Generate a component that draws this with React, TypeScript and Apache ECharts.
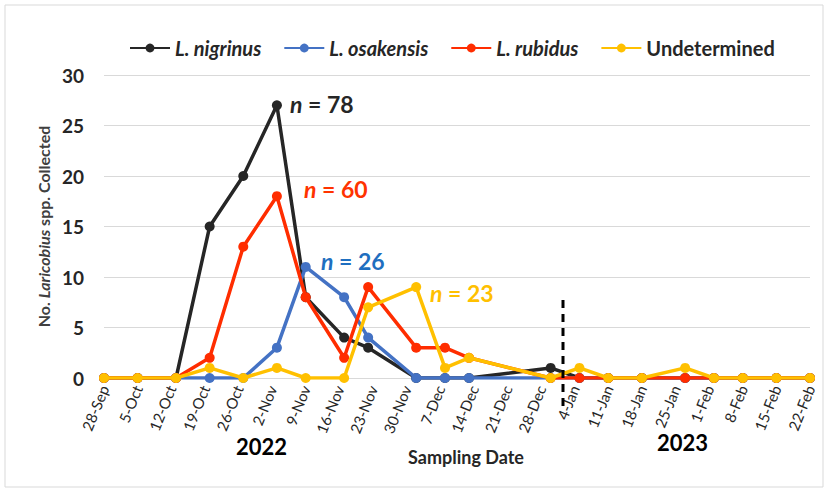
import React, { useEffect, useRef } from "react";
import * as echarts from "echarts";

const startDate = "2022-09-28";
const tickLabels = [
  "28-Sep", "5-Oct", "12-Oct", "19-Oct", "26-Oct", "2-Nov", "9-Nov", "16-Nov", "23-Nov", "30-Nov",
  "7-Dec", "14-Dec", "21-Dec", "28-Dec", "4-Jan", "11-Jan", "18-Jan", "25-Jan", "1-Feb", "8-Feb",
  "15-Feb", "22-Feb",
];
const sampleDates = [
  "2022-09-28", "2022-10-05", "2022-10-13", "2022-10-20", "2022-10-27", "2022-11-03", "2022-11-09",
  "2022-11-17", "2022-11-22", "2022-12-02", "2022-12-08", "2022-12-13", "2022-12-30", "2023-01-05",
  "2023-01-11", "2023-01-18", "2023-01-27", "2023-02-02", "2023-02-08", "2023-02-15", "2023-02-22",
];
const nigrinus = [0, 0, 0, 15, 20, 27, 8, 4, 3, 0, 0, 0, 1, 0, 0, 0, 0, 0, 0, 0, 0];
const osakensis = [0, 0, 0, 0, 0, 3, 11, 8, 4, 0, 0, 0, 0, 0, 0, 0, 0, 0, 0, 0, 0];
const rubidus = [0, 0, 0, 2, 13, 18, 8, 2, 9, 3, 3, 2, 0, 0, 0, 0, 0, 0, 0, 0, 0];
const undetermined = [0, 0, 0, 1, 0, 1, 0, 0, 7, 9, 1, 2, 0, 1, 0, 0, 1, 0, 0, 0, 0];
const seriesNames = ["L. nigrinus", "L. osakensis", "L. rubidus", "Undetermined"];
const totals = ["78", "26", "60", "23"];

const FONT = "Lato, 'Open Sans', sans-serif";
const dayMs = 86400000;
const toDay = (s: string) => {
  const [y, m, d] = s.split("-").map(Number);
  const [y0, m0, d0] = startDate.split("-").map(Number);
  return Math.round((Date.UTC(y, m - 1, d) - Date.UTC(y0, m0 - 1, d0)) / dayMs);
};
const days = sampleDates.map(toDay);
const pair = (vals: number[]) => vals.map((v, i) => [days[i], v]);

export default function App() {
  const ref = useRef<HTMLDivElement>(null);
  useEffect(() => {
    if (!ref.current) return;
    const chart = echarts.init(ref.current, undefined, { renderer: "svg" });
    const colors = ["#262626", "#4472C4", "#FF2D00", "#FFC000"];
    const dataSets = [nigrinus, osakensis, rubidus, undetermined];
    const nText = (color: string, total: string, x: number, y: number) => ({
      type: "text",
      left: x,
      top: y,
      style: {
        text: `{i|n}{b| = ${total}}`,
        rich: {
          i: { fontFamily: FONT, fontSize: 23, fontWeight: "bold", fontStyle: "italic", fill: color, color },
          b: { fontFamily: FONT, fontSize: 23, fontWeight: "bold", fill: color, color },
        },
      },
    });
    chart.setOption({
      animation: false,
      backgroundColor: "#ffffff",
      grid: { left: 104, right: 17, top: 75, bottom: 113 },
      legend: {
        left: 124,
        top: 33,
        itemWidth: 40,
        itemHeight: 11,
        itemGap: 22,
        data: seriesNames,
        formatter: (name: string) => (name === "Undetermined" ? `{n|${name}}` : `{i|${name}}`),
        textStyle: {
          rich: {
            i: { fontFamily: FONT, fontSize: 20, fontWeight: "bold", fontStyle: "italic", color: "#262626" },
            n: { fontFamily: FONT, fontSize: 20, fontWeight: "bold", color: "#262626" },
          },
        },
      },
      xAxis: {
        type: "value",
        min: 0,
        max: 147,
        interval: 7,
        axisLine: { show: true, lineStyle: { color: "#D9D9D9", width: 1 } },
        axisTick: { show: false },
        splitLine: { show: false },
        axisLabel: {
          rotate: 68,
          margin: 8,
          fontFamily: FONT,
          fontSize: 15,
          color: "#262626",
          formatter: (v: number) => tickLabels[Math.round(v / 7)] ?? "",
        },
      },
      yAxis: {
        type: "value",
        min: 0,
        max: 30,
        interval: 5,
        axisLine: { show: false },
        axisTick: { show: false },
        splitLine: { lineStyle: { color: "#D9D9D9", width: 1 } },
        axisLabel: { margin: 20, fontFamily: FONT, fontSize: 19, fontWeight: "bold", color: "#262626" },
        name: "{n|No. }{i|Laricobius}{n| spp. Collected}",
        nameLocation: "middle",
        nameGap: 50,
        nameTextStyle: {
          rich: {
            n: { fontFamily: FONT, fontSize: 16, fontWeight: "bold", color: "#404040" },
            i: { fontFamily: FONT, fontSize: 16, fontWeight: "bold", fontStyle: "italic", color: "#404040" },
          },
        },
      },
      series: seriesNames.map((name, k) => ({
        name,
        type: "line",
        data: pair(dataSets[k]),
        symbol: "circle",
        symbolSize: 10,
        showSymbol: true,
        lineStyle: { width: 3.5, color: colors[k] },
        itemStyle: { color: colors[k] },
        z: 2 + k,
      })),
      graphic: [
        {
          type: "rect",
          shape: { x: 5, y: 5, width: 818, height: 482 },
          style: { fill: "none", stroke: "#D9D9D9", lineWidth: 1 },
          silent: true,
        },
        {
          type: "line",
          shape: { x1: 563, y1: 300, x2: 563, y2: 408 },
          style: { stroke: "#000000", lineWidth: 3, lineDash: [8, 6] },
          z: 100,
        },
        {
          type: "text",
          left: 236,
          top: 435,
          style: { text: "2022", fontFamily: FONT, fontSize: 22, fontWeight: "bold", fill: "#000000" },
        },
        {
          type: "text",
          left: 657,
          top: 431,
          style: { text: "2023", fontFamily: FONT, fontSize: 22, fontWeight: "bold", fill: "#000000" },
        },
        {
          type: "text",
          left: 408,
          top: 448,
          style: { text: "Sampling Date", fontFamily: FONT, fontSize: 18, fontWeight: "bold", fill: "#262626" },
        },
        nText("#262626", totals[0], 290, 92),
        nText("#FF3300", totals[2], 304, 177),
        nText("#1F6FC0", totals[1], 321, 249),
        nText("#FFC000", totals[3], 430, 281),
      ],
    });
    return () => chart.dispose();
  }, []);
  return (
    <div
      ref={ref}
      style={{ position: "fixed", left: 0, top: 0, width: 827, height: 491, background: "#fff" }}
    />
  );
}
